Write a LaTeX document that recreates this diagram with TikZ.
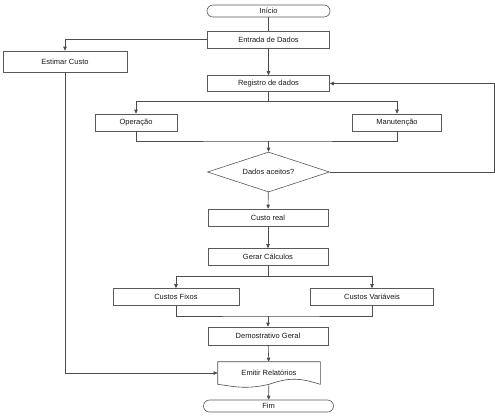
\documentclass[tikz,border=0pt]{standalone}
\usepackage{fontspec}
\setmainfont{Liberation Sans}
\usepackage{tikz}
\usetikzlibrary{shapes.geometric,arrows.meta}

\begin{document}
\begin{tikzpicture}
[x=1pt,y=-1pt,font=\fontsize{7.5}{9}\selectfont,
 every node/.style={rectangle,draw=black!65,line width=.6pt,inner sep=0pt,text=black!90},
 box/.style={minimum width=120pt,minimum height=17pt},
 term/.style={rounded corners=6pt,minimum width=123pt,minimum height=12pt},
 decision/.style={diamond,aspect=3,minimum width=122pt,minimum height=40pt},
 flow/.style={draw=black!70,line width=.6pt},
 >={Triangle[length=4pt,width=3.5pt]}]
\useasboundingbox (0,0) rectangle (495,416);
\node[term] (inicio) at (268.5,11) {Início};
\node[box,minimum width=122pt] (entrada) at (268.5,39.5) {Entrada de Dados};
\node[box,minimum width=124pt,minimum height=21pt] (estimar) at (65,61.5) {Estimar Custo};
\node[box,minimum width=122pt,minimum height=16pt] (registro) at (268.5,83.5) {Registro de dados};
\node[box,minimum width=82pt] (operacao) at (136,122.5) {Operação};
\node[box,minimum width=89pt] (manutencao) at (397,122.5) {Manutenção};
\node[decision] (dados) at (268.5,172) {Dados aceitos?};
\node[box] (custo) at (268,217.5) {Custo real};
\node[box] (gerar) at (268,257) {Gerar Cálculos};
\node[box,minimum width=126pt] (fixos) at (176,297) {Custos Fixos};
\node[box,minimum width=123pt] (variaveis) at (372,297) {Custos Variáveis};
\node[box,minimum height=18pt] (demo) at (268,336) {Demostrativo Geral};
\node[draw=none,minimum width=102pt,minimum height=22pt] (emitir) at (269,373) {Emitir Relatórios};
\node[term,minimum width=130pt] (fim) at (268.5,406) {Fim};
% documento
\draw[flow] (emitir.south west) -- (emitir.north west) -- (emitir.north east) -- (emitir.south east)
  .. controls (300,378) and (290,377) .. (emitir.south)
  .. controls (245,390) and (232,386) .. (emitir.south west);
% pontos de desvio
\coordinate (split1) at (268.5,101);
\coordinate (join1) at (268.5,141);
\coordinate (split2) at (268,276);
\coordinate (join2) at (268,316);
\coordinate (loop) at (494,172);
\draw[flow] (inicio) -- (entrada);
\foreach \from/\to in {entrada/registro,join1/dados,dados/custo,custo/gerar,join2/demo,demo/emitir,emitir/fim}
	\draw[flow,->] (\from) -- (\to);
\draw[flow,->] (entrada.west) -| (estimar.north);
\draw[flow] (registro) -- (split1);
\foreach \to in {operacao,manutencao}
	\draw[flow,->] (split1) -| (\to.north);
\draw[flow] (operacao.south) |- (join1) -| (manutencao.south);
\draw[flow,->] (dados.east) -- (loop) |- (registro.east);
\draw[flow] (gerar) -- (split2);
\foreach \to in {fixos,variaveis}
	\draw[flow,->] (split2) -| (\to.north);
\draw[flow] (fixos.south) |- (join2) -| (variaveis.south);
\draw[flow,->] (estimar.south) |- (emitir.west);
\end{tikzpicture}
\end{document}
